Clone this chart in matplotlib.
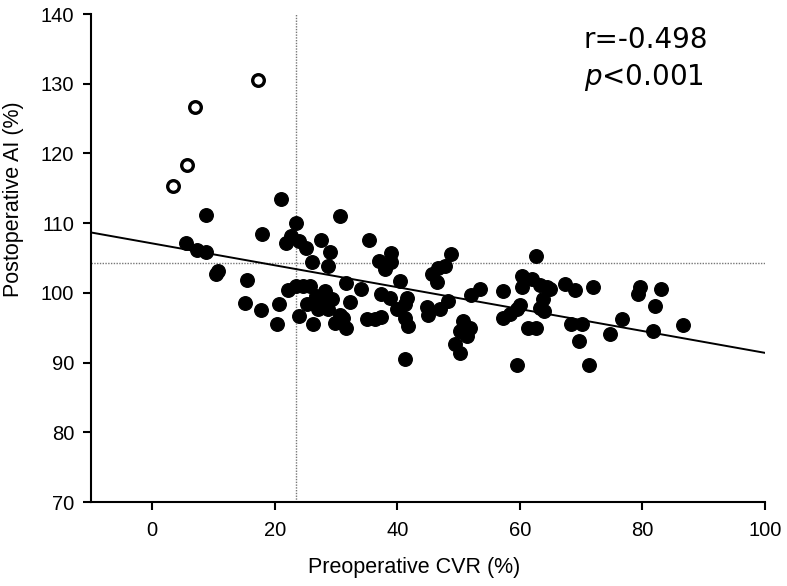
import numpy as np
import matplotlib
matplotlib.use("Agg")
import matplotlib.pyplot as plt

# filled points (preoperative CVR %, postoperative AI %)
cvr = [5.5, 7.3, 8.7, 8.7, 10.4, 10.7, 15.5, 15.1, 17.7, 17.9, 20.4, 20.7, 21.0, 21.9,
       22.7, 23.5, 24.0, 25.1, 22.2, 23.5, 24.6, 25.8, 23.9, 25.2, 26.0, 26.3, 27.9,
       29.3, 27.1, 28.7, 26.3, 27.6, 29.0, 28.7, 28.2, 30.6, 30.6, 31.2, 29.8, 31.7,
       31.7, 32.2, 34.0, 35.4, 35.0, 36.3, 37.4, 37.0, 39.0, 39.0, 38.0, 37.4, 38.8,
       40.4, 41.5, 41.2, 40.0, 41.2, 41.8, 41.3, 45.6, 46.7, 47.7, 48.8, 46.4, 44.8,
       45.0, 46.9, 48.3, 50.7, 51.8, 50.2, 51.3, 49.4, 50.3, 52.0, 53.5, 57.3, 57.3,
       58.4, 59.5, 60.0, 60.3, 60.4, 61.9, 63.3, 64.4, 63.8, 63.3, 63.9, 62.7, 61.4,
       62.7, 59.5, 64.9, 67.3, 69.0, 71.9, 79.6, 79.3, 83.1, 82.0, 68.3, 70.1, 76.6,
       74.7, 81.7, 86.7, 69.7, 71.3, 26.8, 28.0]
ai = [107.1, 106.1, 105.8, 111.2, 102.7, 103.2, 101.9, 98.6, 97.5, 108.4, 95.6, 98.4,
      113.5, 107.1, 108.1, 110.0, 107.5, 106.5, 100.4, 101.0, 101.0, 101.0, 96.7, 98.4,
      104.4, 98.6, 98.4, 99.1, 97.7, 97.7, 95.6, 107.6, 105.9, 103.8, 100.3, 111.0,
      96.9, 96.4, 95.7, 95.0, 101.4, 98.7, 100.5, 107.6, 96.2, 96.2, 96.6, 104.6, 105.7,
      104.4, 103.4, 99.8, 99.2, 101.7, 99.3, 98.4, 97.7, 96.4, 95.3, 90.5, 102.7, 103.6,
      103.9, 105.6, 101.5, 98.0, 96.9, 97.7, 98.9, 96.0, 95.0, 94.5, 93.8, 92.7, 91.4,
      99.7, 100.5, 100.3, 96.4, 97.0, 97.7, 98.3, 102.4, 100.8, 102.0, 101.2, 100.8,
      99.1, 97.9, 97.4, 105.3, 95.0, 95.0, 89.7, 100.6, 101.3, 100.4, 100.9, 100.9,
      99.9, 100.6, 98.1, 95.6, 95.6, 96.2, 94.1, 94.6, 95.4, 93.1, 89.7, 99.5, 99.8]

# open circles
cvr_open = [3.4, 5.6, 6.9, 17.2]
ai_open = [115.4, 118.3, 126.7, 130.6]

# regression line and cut-off lines
intercept = 107.1
slope = -0.157
cvr_cut = 23.4
ai_cut = 104.3

plt.rcParams['font.family'] = ['Liberation Sans Narrow', 'Liberation Sans', 'DejaVu Sans']

fig = plt.figure(figsize=(7.87, 5.86), dpi=100)
ax = fig.add_axes([0.1156, 0.1433, 0.8564, 0.8327])

ax.axvline(cvr_cut, color="#777777", ls=(0, (1, 1)), lw=1.0, zorder=1)
ax.axhline(ai_cut, color="#777777", ls=(0, (1, 1)), lw=1.0, zorder=1)

xx = np.array([-10, 100])
ax.plot(xx, intercept + slope * xx, color="black", lw=1.4, zorder=2)

ax.scatter(cvr, ai, s=95, color="black", zorder=3)
ax.scatter(cvr_open, ai_open, s=70, facecolors="white", edgecolors="black", linewidths=2.4, zorder=3)

ax.set_xlim(-10, 100)
ax.set_ylim(70, 140)
ax.set_xticks([0, 20, 40, 60, 80, 100])
ax.set_yticks([70, 80, 90, 100, 110, 120, 130, 140])
ax.spines['top'].set_visible(False)
ax.spines['right'].set_visible(False)
ax.spines['left'].set_linewidth(1.5)
ax.spines['bottom'].set_linewidth(1.5)
ax.tick_params(direction="out", length=6, width=1.5, labelsize=14.5, pad=6)
ax.tick_params(axis="x", pad=8)

ax.set_xlabel("Preoperative CVR (%)", fontsize=15.5)
ax.xaxis.set_label_coords(0.48, -0.112)
ax.set_ylabel("Postoperative AI (%)", fontsize=15.5)
ax.yaxis.set_label_coords(-0.100, 0.62)

ax.text(0.731, 0.930, "r=-0.498", transform=ax.transAxes, fontsize=20,
        family=['DejaVu Sans'], va="baseline")
ax.text(0.731, 0.8545, r"$\it{p}$<0.001", transform=ax.transAxes, fontsize=20,
        family=['DejaVu Sans'], va="baseline")

fig.savefig("out.png", dpi=100)
